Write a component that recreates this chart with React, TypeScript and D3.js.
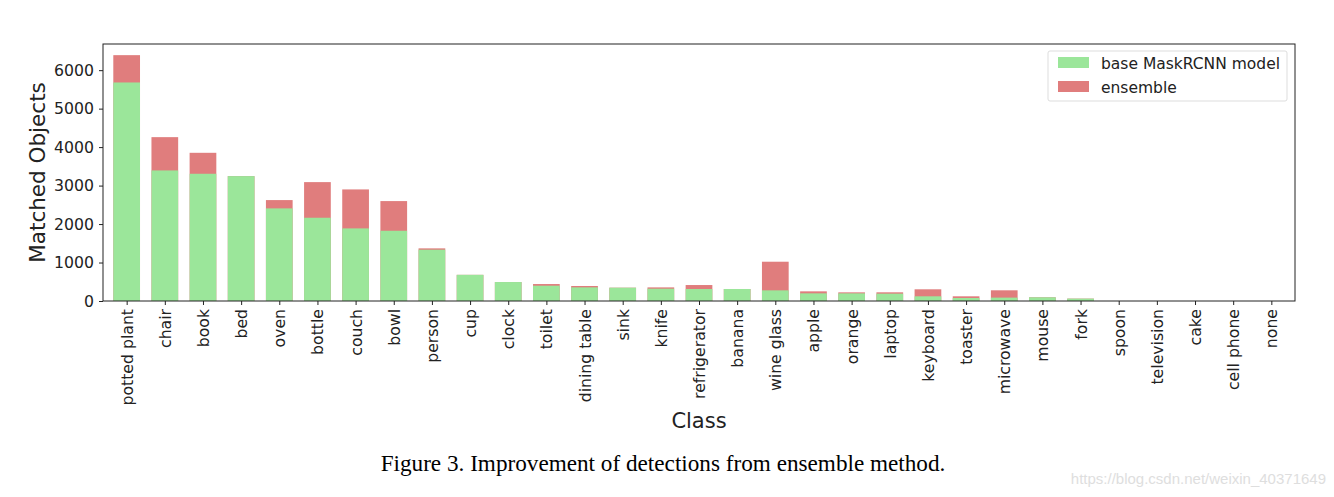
import React, { useEffect, useRef } from 'react'
import * as d3 from 'd3'

const classes = [
  'potted plant', 'chair', 'book', 'bed', 'oven', 'bottle', 'couch', 'bowl', 'person', 'cup',
  'clock', 'toilet', 'dining table', 'sink', 'knife', 'refrigerator', 'banana', 'wine glass',
  'apple', 'orange', 'laptop', 'keyboard', 'toaster', 'microwave', 'mouse', 'fork', 'spoon',
  'television', 'cake', 'cell phone', 'none',
]
// base model matched objects
const baseValues = [
  5680, 3394, 3307, 3246, 2407, 2164, 1887, 1826, 1333, 680,
  493, 398, 355, 346, 320, 312, 312, 277,
  199, 199, 191, 122, 78, 88, 96, 62, 0,
  0, 0, 0, 0,
]
// ensemble totals
const ensembleValues = [
  6390, 4259, 3852, 3246, 2623, 3090, 2900, 2597, 1368, 680,
  493, 441, 390, 346, 354, 415, 312, 1021,
  251, 225, 226, 304, 122, 278, 96, 62, 0,
  0, 0, 0, 0,
]
const yTicks = [0, 1000, 2000, 3000, 4000, 5000, 6000]

const W = 1334
const H = 497
const margin = { left: 103, right: 1295, top: 44, bottom: 301 }
const green = '#9be69a'
const red = '#e07d7d'
const font = 'DejaVu Sans, sans-serif'
const tickSize = 15.7

export default function App() {
  const svgRef = useRef<SVGSVGElement>(null)

  useEffect(() => {
    document.body.style.margin = '0'
    const svg = d3.select(svgRef.current)
    svg.selectAll('*').remove()

    const x = d3.scaleLinear().domain([-0.62, classes.length - 1 + 0.62]).range([margin.left, margin.right])
    const y = d3.scaleLinear().domain([0, 6680]).range([margin.bottom, margin.top])
    const bw = x(0.7) - x(0)

    // ensemble (behind)
    svg
      .append('g')
      .selectAll('rect')
      .data(ensembleValues)
      .enter()
      .append('rect')
      .attr('x', (d, i) => x(i) - bw / 2)
      .attr('y', (d) => y(d))
      .attr('width', bw)
      .attr('height', (d) => y(0) - y(d))
      .attr('fill', red)

    // base model
    svg
      .append('g')
      .selectAll('rect')
      .data(baseValues)
      .enter()
      .append('rect')
      .attr('x', (d, i) => x(i) - bw / 2)
      .attr('y', (d) => y(d))
      .attr('width', bw)
      .attr('height', (d) => y(0) - y(d))
      .attr('fill', green)

    // frame
    svg
      .append('rect')
      .attr('x', margin.left)
      .attr('y', margin.top)
      .attr('width', margin.right - margin.left)
      .attr('height', margin.bottom - margin.top)
      .attr('fill', 'none')
      .attr('stroke', '#222')
      .attr('stroke-width', 1)

    // y axis
    const yAxis = svg
      .append('g')
      .attr('transform', `translate(${margin.left},0)`)
      .call(d3.axisLeft(y).tickValues(yTicks).tickSize(4).tickPadding(5).tickFormat(d3.format('d')))
    yAxis.select('.domain').remove()
    yAxis.selectAll('line').attr('stroke', '#222')
    yAxis.selectAll('text').attr('font-family', font).attr('font-size', tickSize).attr('fill', '#222')

    // x axis
    const xAxis = svg
      .append('g')
      .attr('transform', `translate(0,${margin.bottom})`)
      .call(
        d3
          .axisBottom(x)
          .tickValues(d3.range(classes.length))
          .tickSize(4)
          .tickFormat((d) => classes[d as number])
      )
    xAxis.select('.domain').remove()
    xAxis.selectAll('line').attr('stroke', '#222')
    xAxis
      .selectAll('text')
      .attr('font-family', font)
      .attr('font-size', tickSize)
      .attr('fill', '#222')
      .attr('text-anchor', 'end')
      .attr('dy', '0.35em')
      .attr('y', 0)
      .attr('transform', 'translate(0,8) rotate(-90)')

    // axis titles
    svg
      .append('text')
      .attr('x', (margin.left + margin.right) / 2)
      .attr('y', 428)
      .attr('text-anchor', 'middle')
      .attr('font-family', font)
      .attr('font-size', 21)
      .attr('fill', '#222')
      .text('Class')

    svg
      .append('text')
      .attr('transform', `translate(45,${(margin.top + margin.bottom) / 2}) rotate(-90)`)
      .attr('text-anchor', 'middle')
      .attr('font-family', font)
      .attr('font-size', 21.5)
      .attr('fill', '#222')
      .text('Matched Objects')

    // legend
    const lg = svg.append('g').attr('transform', 'translate(1048,51)')
    lg.append('rect')
      .attr('width', 239)
      .attr('height', 50)
      .attr('rx', 2)
      .attr('fill', 'white')
      .attr('stroke', '#ddd')
    const items = [
      { label: 'base MaskRCNN model', color: green },
      { label: 'ensemble', color: red },
    ]
    items.forEach((it, i) => {
      lg.append('rect')
        .attr('x', 10)
        .attr('y', 6 + i * 24)
        .attr('width', 31)
        .attr('height', 11)
        .attr('fill', it.color)
      lg.append('text')
        .attr('x', 53)
        .attr('y', 18 + i * 24)
        .attr('font-family', font)
        .attr('font-size', 15.5)
        .attr('fill', '#222')
        .text(it.label)
    })

    // caption
    svg
      .append('text')
      .attr('x', 663)
      .attr('y', 471)
      .attr('text-anchor', 'middle')
      .attr('font-family', 'Liberation Serif, Times New Roman, serif')
      .attr('font-size', 23.2)
      .attr('fill', '#000')
      .text('Figure 3. Improvement of detections from ensemble method.')

    svg
      .append('text')
      .attr('x', 1326)
      .attr('y', 484)
      .attr('text-anchor', 'end')
      .attr('font-family', 'Liberation Sans, Arial, sans-serif')
      .attr('font-size', 15)
      .attr('fill', '#dedede')
      .text('https://blog.csdn.net/weixin_40371649')
  }, [])

  return <svg ref={svgRef} width={W} height={H} style={{ display: 'block', background: 'white' }} />
}
